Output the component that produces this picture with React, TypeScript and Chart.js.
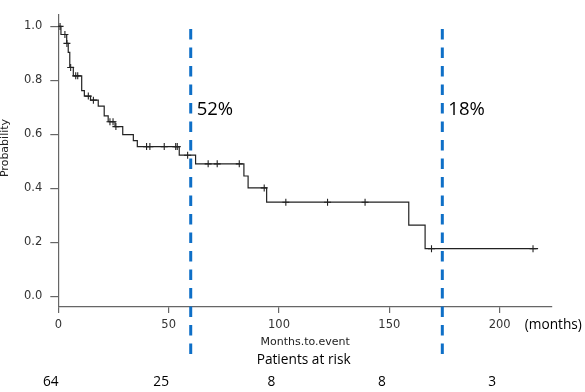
import React, { useEffect, useRef } from 'react';
import { Chart, registerables } from 'chart.js';

Chart.register(...registerables);

// Kaplan-Meier step points (months, survival probability)
const eventMonths = [0, 1.2, 3.8, 4.5, 5.2, 6.8, 10.6, 11.8, 14.6, 18.1, 20.8, 22.6, 25.7, 29.2, 34.0, 35.8, 54.8, 62.2, 84.1, 86.0, 94.4, 158.8, 166.2, 217.4];
const survival = [1.0, 0.970, 0.937, 0.904, 0.848, 0.817, 0.762, 0.742, 0.727, 0.705, 0.669, 0.647, 0.629, 0.599, 0.577, 0.555, 0.523, 0.491, 0.446, 0.402, 0.349, 0.264, 0.177, 0.177];
// censored observations (months)
const censorMonths = [0.8, 3.0, 3.9, 5.6, 7.9, 8.8, 13.6, 15.9, 23.4, 24.8, 26.1, 40.0, 41.5, 48.0, 53.2, 53.9, 58.6, 67.9, 72.0, 82.0, 93.3, 103.1, 122.0, 139.0, 169.1, 215.1];

const xTicks = [0, 50, 100, 150, 200];
const yTicks = [0, 0.2, 0.4, 0.6, 0.8, 1.0];

const landmarkMonths = [60, 174];
const landmarkLabels = ['52%', '18%'];

const atRiskMonths = [0, 50, 100, 150, 200];
const atRiskCounts = [64, 25, 8, 8, 3];

const xTitle = 'Months.to.event';
const yTitle = 'Probability';
const unitLabel = '(months)';
const atRiskTitle = 'Patients at risk';

function survivalAt(t: number): number {
  let s = survival[0];
  for (let i = 0; i < eventMonths.length; i++) {
    if (eventMonths[i] <= t) s = survival[i];
  }
  return s;
}

const overlayPlugin = {
  id: 'overlay',
  afterDraw(chart: any) {
    const { ctx, scales, chartArea } = chart;
    const x = scales.x;
    ctx.save();
    landmarkMonths.forEach((m, i) => {
      const px = x.getPixelForValue(m);
      ctx.strokeStyle = '#0e6fc7';
      ctx.lineWidth = 3;
      ctx.setLineDash([10.5, 8]);
      ctx.beginPath();
      ctx.moveTo(px, 29);
      ctx.lineTo(px, 361);
      ctx.stroke();
      ctx.setLineDash([]);
      ctx.fillStyle = '#000';
      ctx.font = '18.5px "Open Sans"';
      ctx.textAlign = 'left';
      ctx.textBaseline = 'middle';
      ctx.fillText(landmarkLabels[i], px + 6, 110);
    });
    ctx.fillStyle = '#000';
    ctx.font = '13.7px "Open Sans"';
    ctx.textBaseline = 'middle';
    ctx.textAlign = 'left';
    ctx.fillText(unitLabel, x.getPixelForValue(xTicks[xTicks.length - 1]) + 25, 325);
    ctx.textAlign = 'center';
    ctx.fillText(atRiskTitle, (chartArea.left + chartArea.right) / 2 - 1.5, 360);
    atRiskMonths.forEach((m, i) => {
      ctx.fillText(String(atRiskCounts[i]), x.getPixelForValue(m) - 7.5, 382);
    });
    // y axis title
    ctx.save();
    ctx.translate(5.5, 148);
    ctx.rotate(-Math.PI / 2);
    ctx.font = '11px "DejaVu Sans"';
    ctx.fillStyle = '#222';
    ctx.textAlign = 'center';
    ctx.textBaseline = 'middle';
    ctx.fillText(yTitle, 0, 0);
    ctx.restore();
    ctx.restore();
  },
};

export default function App() {
  const canvasRef = useRef<HTMLCanvasElement | null>(null);

  useEffect(() => {
    const canvas = canvasRef.current;
    if (!canvas) return;
    const curve = eventMonths.map((t, i) => ({ x: t, y: survival[i] }));
    const censors = censorMonths.map((t) => ({ x: t, y: survivalAt(t) }));
    const tickFont = { family: '"DejaVu Sans"', size: 11.5 };
    const chart = new Chart(canvas, {
      type: 'line',
      data: {
        datasets: [
          {
            type: 'line',
            data: curve,
            stepped: 'before',
            borderColor: '#222',
            borderWidth: 1.2,
            pointRadius: 0,
            fill: false,
          },
          {
            type: 'scatter',
            data: censors,
            showLine: false,
            pointStyle: 'cross',
            pointRadius: 3.5,
            borderColor: '#222',
            borderWidth: 1.1,
            backgroundColor: '#222',
          },
        ],
      } as any,
      options: {
        responsive: false,
        animation: false,
        devicePixelRatio: 1,
        layout: { padding: { top: 2, right: 33, left: 0, bottom: 0 } },
        plugins: { legend: { display: false }, tooltip: { enabled: false } },
        scales: {
          x: {
            type: 'linear',
            min: 0,
            max: 223.7,
            afterBuildTicks: (scale: any) => {
              scale.ticks = xTicks.map((v) => ({ value: v }));
            },
            afterFit: (scale: any) => {
              scale.height = 85;
            },
            border: { display: true, color: '#666', width: 1.2 },
            grid: { display: true, drawOnChartArea: false, drawTicks: true, tickLength: 6, color: '#666', lineWidth: 1.2 },
            ticks: { font: tickFont, color: '#333', padding: 5, maxRotation: 0, autoSkip: false },
            title: { display: true, text: xTitle, font: { family: '"DejaVu Sans"', size: 11, lineHeight: 1 }, color: '#222', padding: { top: 0, bottom: 44.5 } },
          },
          y: {
            type: 'linear',
            min: -0.039,
            max: 1.0426,
            afterBuildTicks: (scale: any) => {
              scale.ticks = yTicks.map((v) => ({ value: v }));
            },
            afterFit: (scale: any) => {
              scale.width = 58.3;
            },
            border: { display: true, color: '#666', width: 1.2 },
            grid: { display: true, drawOnChartArea: false, drawTicks: true, tickLength: 8, color: '#666', lineWidth: 1.2 },
            ticks: {
              font: tickFont,
              color: '#333',
              padding: 8,
              autoSkip: false,
              callback: (v: any) => Number(v).toFixed(1),
            },
            title: { display: false },
          },
        },
      } as any,
      plugins: [overlayPlugin],
    });
    return () => chart.destroy();
  }, []);

  return (
    <div style={{ position: 'fixed', left: 0, top: 0, width: 585, height: 392, background: '#fff' }}>
      <canvas ref={canvasRef} width={585} height={392} style={{ width: 585, height: 392 }} />
    </div>
  );
}
